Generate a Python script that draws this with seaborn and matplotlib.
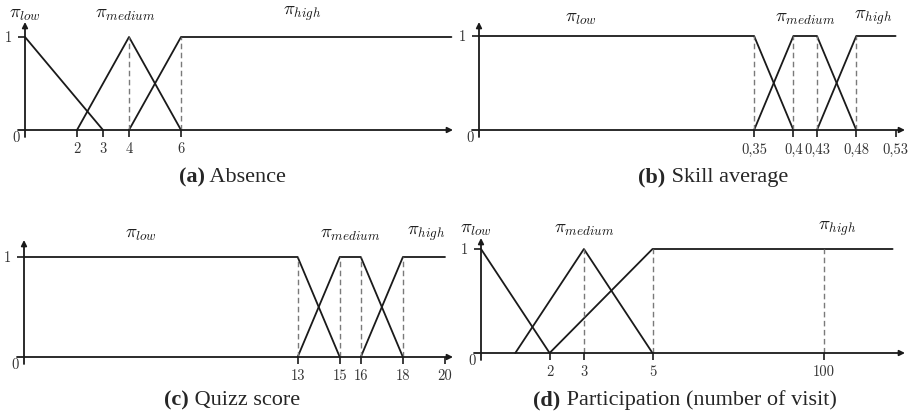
import numpy as np
import pandas as pd
import matplotlib
matplotlib.use("Agg")
import matplotlib.pyplot as plt
import seaborn as sns

# membership functions, one small array per set
absence_low_x = [0, 3]
absence_low_y = [1, 0]
absence_med_x = [2, 4, 6]
absence_med_y = [0, 1, 0]
absence_high_x = [4, 6, 16.4]
absence_high_y = [0, 1, 1]
absence_ticks = [2, 3, 4, 6]
absence_guides = [4, 6]

skill_low_x = [0, 0.35, 0.40]
skill_low_y = [1, 1, 0]
skill_med_x = [0.35, 0.40, 0.43, 0.48]
skill_med_y = [0, 1, 1, 0]
skill_high_x = [0.43, 0.48, 0.53]
skill_high_y = [0, 1, 1]
skill_ticks = [0.35, 0.40, 0.43, 0.48, 0.53]
skill_ticklabels = ['0,35', '0,4', '0,43', '0,48', '0,53']
skill_guides = [0.35, 0.40, 0.43, 0.48]

quiz_low_x = [0, 13, 15]
quiz_low_y = [1, 1, 0]
quiz_med_x = [13, 15, 16, 18]
quiz_med_y = [0, 1, 1, 0]
quiz_high_x = [16, 18, 20]
quiz_high_y = [0, 1, 1]
quiz_ticks = [13, 15, 16, 18, 20]
quiz_guides = [13, 15, 16, 18]

part_low_x = [0, 2]
part_low_y = [1, 0]
part_med_x = [1, 3, 5]
part_med_y = [0, 1, 0]
part_high_x = [2, 5, 138]
part_high_y = [0, 1, 1]
part_ticks = [2, 3, 5, 100]
part_guides = [3, 5, 100]

set_names = ['low', 'medium', 'high']

sns.set_theme(style='white')
plt.rcParams['mathtext.fontset'] = 'cm'

W, H = 911, 419
fig = plt.figure(figsize=(W / 100, H / 100), dpi=100)

INK = '#1a1a1a'
TICK_FS = 10.5


def make_df(xs, ys):
    rows = []
    for name, x, y in zip(set_names, xs, ys):
        for a, b in zip(x, y):
            rows.append({'x': a, 'mu': b, 'set': name})
    return pd.DataFrame(rows)


# compressed scale for the participation axis (break between 5 and 100)
def fwd(x):
    x = np.asarray(x, dtype=float)
    return np.where(x <= 5, x, 5 + (x - 5) / 19.0)


def inv(u):
    u = np.asarray(u, dtype=float)
    return np.where(u <= 5, u, 5 + (u - 5) * 19.0)


def panel(rect, origin, sx, sy, xaxis_end, yaxis_top, df, ticks, ticklabels,
          guides, label_pos, scaled=False):
    left, top, right, bottom = rect
    ox, oy = origin
    ax = fig.add_axes([left / W, 1 - bottom / H, (right - left) / W, (bottom - top) / H])
    if scaled:
        ax.set_xscale('function', functions=(fwd, inv))
    sns.lineplot(data=df, x='x', y='mu', hue='set', units='set', estimator=None,
                 sort=False, palette=[INK] * 3, legend=False, lw=1.3, ax=ax)
    ax.vlines(guides, 0, 1, colors='#7a7a7a', linestyles=(0, (4, 2.5)), lw=1.0)

    xlo, xhi = (left - ox) / sx, (right - ox) / sx
    if scaled:
        xlo, xhi = float(inv(xlo)), float(inv(xhi))
    ax.set_xlim(xlo, xhi)
    ax.set_ylim((oy - bottom) / sy, (oy - top) / sy)
    ax.set_xlabel('')
    ax.set_ylabel('')
    ax.patch.set_alpha(0)
    for s in ax.spines.values():
        s.set_visible(False)
    ax.spines['bottom'].set_position(('data', 0))
    ax.spines['left'].set_position(('data', 0))

    ax.set_xticks(ticks)
    ax.set_xticklabels(ticklabels)
    ax.set_yticks([1])
    ax.set_yticklabels(['1'])
    ax.tick_params(axis='both', direction='out', length=5, width=1.2, color=INK,
                   labelsize=TICK_FS, labelcolor='#333333', pad=4,
                   bottom=True, left=True)
    for t in ax.get_xticklabels() + ax.get_yticklabels():
        t.set_fontfamily('cmr10')
    ax.minorticks_off()

    # axis arrows
    arrow = dict(arrowstyle='-|>', lw=1.3, color=INK, mutation_scale=8,
                 shrinkA=0, shrinkB=0)
    ax.annotate('', xy=(xaxis_end, H - oy), xytext=(ox - 7, H - oy),
                xycoords='figure pixels', arrowprops=arrow)
    ax.annotate('', xy=(ox, H - yaxis_top), xytext=(ox, H - oy - 7),
                xycoords='figure pixels', arrowprops=arrow)
    ax.annotate('0', xy=(0, 0), xytext=(-9, -8), textcoords='offset pixels',
                ha='center', va='center', fontsize=TICK_FS, color='#333333',
                family='cmr10')

    for name, (lx, ly) in zip(set_names, label_pos):
        ax.text(lx, ly, r'$\pi_{%s}$' % name, ha='center', va='center',
                fontsize=13.5, color=INK, clip_on=False)
    return ax


def caption(xc, yc, tag, label):
    r = fig.canvas.get_renderer()
    t1 = fig.text(0, 1 - yc / H, tag, fontsize=16, fontweight='bold',
                  family='Liberation Serif', va='center', ha='left')
    t2 = fig.text(0, 1 - yc / H, ' ' + label, fontsize=16,
                  family='Liberation Serif', va='center', ha='left')
    w1 = t1.get_window_extent(r).width
    w2 = t2.get_window_extent(r).width
    x0 = xc - (w1 + w2) / 2
    t1.set_x(x0 / W)
    t2.set_x((x0 + w1) / W)


panel((5, 5, 460, 160), (25, 130), 26.0, 93.0, 453, 22,
      make_df([absence_low_x, absence_med_x, absence_high_x],
              [absence_low_y, absence_med_y, absence_high_y]),
      absence_ticks, [str(v) for v in absence_ticks], absence_guides,
      [(0, 1.25), (3.85, 1.25), (10.65, 1.25)])

panel((455, 5, 910, 160), (479, 130), 786.0, 94.0, 905, 22,
      make_df([skill_low_x, skill_med_x, skill_high_x],
              [skill_low_y, skill_med_y, skill_high_y]),
      skill_ticks, skill_ticklabels, skill_guides,
      [(0.13, 1.2), (0.415, 1.2), (0.501, 1.2)])

panel((5, 215, 460, 385), (24, 357), 21.05, 100.0, 453, 240,
      make_df([quiz_low_x, quiz_med_x, quiz_high_x],
              [quiz_low_y, quiz_med_y, quiz_high_y]),
      quiz_ticks, [str(v) for v in quiz_ticks], quiz_guides,
      [(5.57, 1.24), (15.5, 1.24), (19.1, 1.24)])

panel((455, 215, 910, 385), (481, 353), 34.3, 104.0, 905, 238,
      make_df([part_low_x, part_med_x, part_high_x],
              [part_low_y, part_med_y, part_high_y]),
      part_ticks, [str(v) for v in part_ticks], part_guides,
      [(-0.15, 1.2), (3, 1.2), (107, 1.2)], scaled=True)

caption(232, 177, '(a)', 'Absence')
caption(713, 177, '(b)', 'Skill average')
caption(232, 400, '(c)', 'Quizz score')
caption(685, 400, '(d)', 'Participation (number of visit)')

fig.savefig('out.png', dpi=100)
